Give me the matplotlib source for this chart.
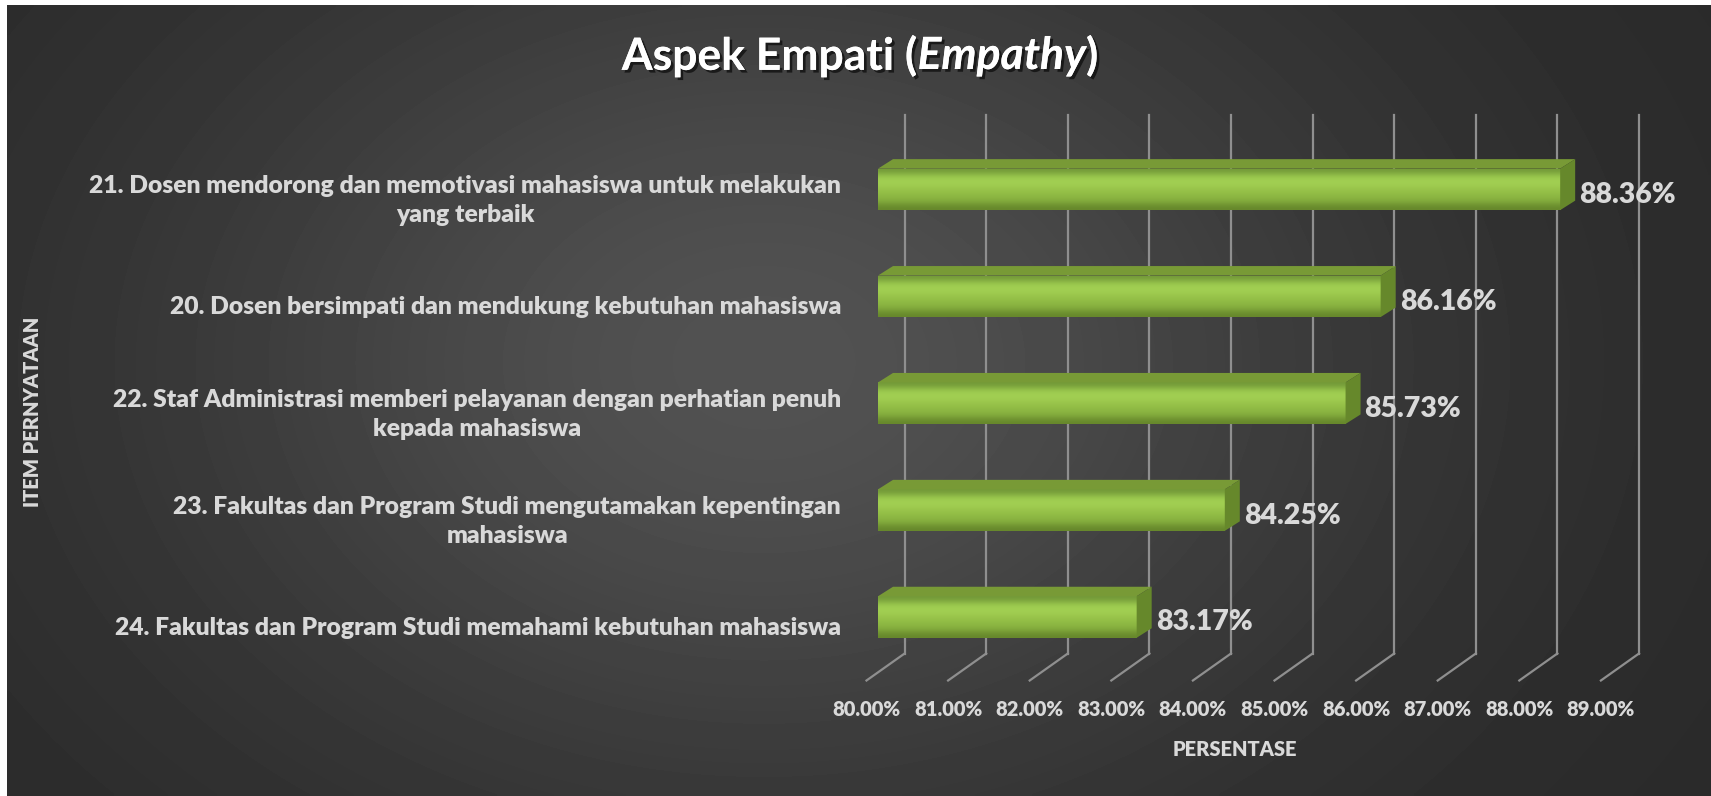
import numpy as np
import matplotlib.pyplot as plt
from matplotlib import patheffects as pe
from matplotlib.patches import Polygon

plt.rcParams['font.family'] = ['Lato', 'DejaVu Sans']
BOLD = 800  # Lato's 700 looks lighter than Calibri bold

# data (bottom to top)
items = ["24. Fakultas dan Program Studi memahami kebutuhan mahasiswa",
         "23. Fakultas dan Program Studi mengutamakan kepentingan\nmahasiswa",
         "22. Staf Administrasi memberi pelayanan dengan perhatian penuh\nkepada mahasiswa",
         "20. Dosen bersimpati dan mendukung kebutuhan mahasiswa",
         "21. Dosen mendorong dan memotivasi mahasiswa untuk melakukan\nyang terbaik"]
persen = [83.17, 84.25, 85.73, 86.16, 88.36]
x_ticks = [80, 81, 82, 83, 84, 85, 86, 87, 88, 89]
x_labels = ["%.2f%%" % t for t in x_ticks]

W, H = 1711, 796
fig = plt.figure(figsize=(W / 100, H / 100), dpi=100, facecolor='white')

# background radial gradient
bg = fig.add_axes([0, 0, 1, 1])
bg.set_xlim(0, W)
bg.set_ylim(H, 0)
bg.axis('off')
gx, gy = np.meshgrid(np.linspace(0, W, 400), np.linspace(0, H, 200))
d2 = ((gx - 760) / 820) ** 2 + ((gy - 360) / 600) ** 2
val = 0.16 + 0.16 * np.exp(-1.8 * d2)
bg.imshow(val, cmap='gray', vmin=0, vmax=1, extent=(7, W, H, 5),
          aspect='auto', interpolation='bilinear')

# main axes: front plane of the bars
PXX = 81.6   # px per 1%
PXY = 106.9  # px per category
ax = fig.add_axes([878 / W, (H - 670.45) / H, 9 * PXX / W, 5 * PXY / H])
ax.set_xlim(80, 89)
ax.set_ylim(-0.5, 4.5)
ax.patch.set_visible(False)
for s in ax.spines.values():
    s.set_visible(False)
ax.set_xticks([])
ax.set_yticks([])

y0 = 617  # px of bottom bar centre
def ypx(p):
    return (y0 - p) / PXY

wall_dx = 26.6 / PXX
wall_top, wall_bot = ypx(114.6), ypx(653.5)
front_dx = -11.5 / PXX
floor_front = ypx(680.5)

grid_c = '#8f8f8f'
for t in x_ticks:
    ax.plot([t + wall_dx, t + wall_dx], [wall_bot, wall_top], color=grid_c,
            lw=1.6, clip_on=False, zorder=1)
    ax.plot([t + wall_dx, t + front_dx], [wall_bot, floor_front], color=grid_c,
            lw=1.6, clip_on=False, zorder=1)

for t, lab in zip(x_ticks, x_labels):
    ax.text(t + front_dx, ypx(709), lab, ha='center', va='center', fontsize=14.5,
            fontweight=BOLD, color='#d9d9d9', clip_on=False)

# bars
ypos = np.arange(len(persen))
h = 41.5 / PXY
ddx, ddy = 15 / PXX, 9.5 / PXY
grad = np.array([[0.45, 0.60, 0.22], [0.62, 0.80, 0.31], [0.64, 0.82, 0.33],
                 [0.60, 0.77, 0.29], [0.56, 0.73, 0.27], [0.52, 0.68, 0.24],
                 [0.40, 0.53, 0.17]])
for y, v in zip(ypos, persen):
    # soft shadow on the left
    for k in range(6):
        w = (6 - k) * 2.0 / PXX
        ax.add_patch(plt.Rectangle((80 - w, y - h / 2 - 12 / PXY), w, h + 8 / PXY,
                                   color='black', alpha=0.06, lw=0, zorder=2))
    bar = ax.barh(y, v - 80, left=80, height=h, color='#96bf46', zorder=3)[0]
    im = ax.imshow(grad[:, None, :], extent=(80, v, y - h / 2, y + h / 2),
                   aspect='auto', interpolation='bicubic', zorder=3.5)
    im.set_clip_path(bar)
    top = Polygon([(80, y + h / 2), (v, y + h / 2), (v + ddx, y + h / 2 + ddy),
                   (80 + ddx, y + h / 2 + ddy)], closed=True, color='#789a36', lw=0, zorder=4)
    side = Polygon([(v, y - h / 2), (v, y + h / 2), (v + ddx, y + h / 2 + ddy),
                    (v + ddx, y - h / 2 + ddy)], closed=True, color='#66882b', lw=0, zorder=4)
    ax.add_patch(top)
    ax.add_patch(side)
    ax.text(v + ddx + 4 / PXX, y - 3 / PXY, "%.2f%%" % v, ha='left', va='center_baseline',
            fontsize=20.5, fontweight=BOLD, color='#d9d9d9', clip_on=False, zorder=5)
ax.set_xlim(80, 89)
ax.set_ylim(-0.5, 4.5)

# category labels
for y, lab in zip(ypos, items):
    ax.text(80 - 37 / PXX, y - 11 / PXY, lab, ha='right', va='center', multialignment='center',
            fontsize=17.7, fontweight=BOLD, color='#d9d9d9', linespacing=1.4, clip_on=False)

fig.text(1235 / W, 1 - 749 / H, "PERSENTASE", ha='center', va='center', fontsize=14.5,
         fontweight=BOLD, color='#d9d9d9')
fig.text(33 / W, 1 - 412 / H, "ITEM PERNYATAAN", ha='center', va='center', rotation=90,
         fontsize=14.5, fontweight=BOLD, color='#d9d9d9')

# title with italic part
shadow = [pe.withSimplePatchShadow(offset=(2, -2), shadow_rgbFace='black', alpha=0.6), pe.Normal()]
parts = [("Aspek Empati (", 'normal'), ("Empathy", 'italic'), (")", 'normal')]
r = fig.canvas.get_renderer()
tt = []
for s, st in parts:
    tt.append(fig.text(0, 1 - 56 / H, s, fontsize=32, fontweight='bold', style=st,
                       color='white', va='center', ha='left', path_effects=shadow))
widths = [t.get_window_extent(r).width for t in tt]
x = 860 - sum(widths) / 2
for t, wd in zip(tt, widths):
    t.set_x(x / W)
    x += wd

fig.savefig('out.png', dpi=100, facecolor='white')
